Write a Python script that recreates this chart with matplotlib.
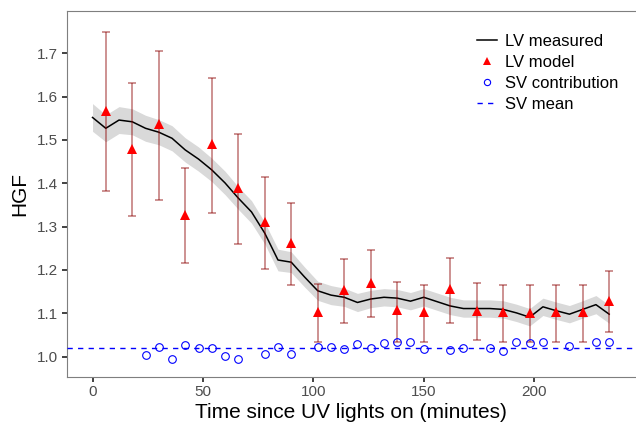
import numpy as np
import matplotlib
matplotlib.use("Agg")
import matplotlib.pyplot as plt
from matplotlib.lines import Line2D

plt.rcParams['font.family'] = ['Liberation Sans', 'DejaVu Sans']

# LV measured (every 6 minutes)
t_meas = list(range(0, 235, 6))
lv_meas = [1.552, 1.527, 1.546, 1.542, 1.527, 1.518, 1.504, 1.477, 1.456, 1.431,
           1.401, 1.366, 1.334, 1.285, 1.223, 1.218, 1.184, 1.152, 1.142, 1.137,
           1.125, 1.133, 1.137, 1.135, 1.128, 1.137, 1.127, 1.117, 1.111, 1.111,
           1.111, 1.109, 1.101, 1.091, 1.115, 1.106, 1.098, 1.109, 1.120, 1.098]
lv_meas_se = [0.032, 0.031, 0.031, 0.030, 0.030, 0.029, 0.029, 0.028, 0.028, 0.027,
              0.027, 0.026, 0.026, 0.025, 0.025, 0.024, 0.023, 0.022, 0.022, 0.021,
              0.021, 0.020, 0.020, 0.020, 0.020, 0.020, 0.020, 0.020, 0.020, 0.020,
              0.020, 0.020, 0.020, 0.020, 0.020, 0.020, 0.020, 0.020, 0.021, 0.021]

# LV model (every 12 minutes)
t_model = list(range(6, 235, 12))
lv_model = [1.567, 1.479, 1.536, 1.327, 1.490, 1.390, 1.310, 1.263, 1.102, 1.154,
            1.171, 1.108, 1.102, 1.156, 1.106, 1.102, 1.101, 1.102, 1.102, 1.129]
lv_model_hi = [1.750, 1.631, 1.705, 1.435, 1.644, 1.513, 1.414, 1.355, 1.167, 1.225,
               1.245, 1.172, 1.165, 1.227, 1.169, 1.165, 1.165, 1.165, 1.165, 1.198]
lv_model_lo = [1.382, 1.325, 1.361, 1.215, 1.332, 1.261, 1.202, 1.165, 1.033, 1.077,
               1.092, 1.033, 1.033, 1.078, 1.038, 1.033, 1.033, 1.033, 1.033, 1.058]

# SV contribution
t_sv = [24, 30, 36, 42, 48, 54, 60, 66, 78, 84, 90, 102, 108, 114, 120, 126, 132,
        138, 144, 150, 162, 168, 180, 186, 192, 198, 204, 216, 228, 234]
sv = [1.004, 1.022, 0.995, 1.027, 1.021, 1.021, 1.002, 0.995, 1.006, 1.023, 1.006,
      1.023, 1.023, 1.017, 1.029, 1.019, 1.031, 1.034, 1.034, 1.018, 1.016, 1.020,
      1.020, 1.013, 1.033, 1.031, 1.034, 1.024, 1.033, 1.033]
sv_mean = 1.0205

x_ticks = [0, 50, 100, 150, 200]
y_ticks = [1.0, 1.1, 1.2, 1.3, 1.4, 1.5, 1.6, 1.7]

fig = plt.figure(figsize=(6.36, 4.24), dpi=100)
ax = fig.add_axes([66.7/636, 1-376.7/424, (635-66.7)/636, (376.7-11)/424])

tm = np.array(t_meas); lm = np.array(lv_meas); se = np.array(lv_meas_se)
ax.fill_between(tm, lm - se, lm + se, color='#D9D9D9', lw=0, zorder=1)
ax.plot(tm, lm, color='black', lw=1.1, zorder=2)

lo = np.array(lv_model) - np.array(lv_model_lo)
hi = np.array(lv_model_hi) - np.array(lv_model)
ax.errorbar(t_model, lv_model, yerr=[lo, hi], fmt='none', ecolor='darkred',
            alpha=0.5, elinewidth=1.2, capsize=2.6, capthick=1.2, zorder=3)
ax.plot(t_model, lv_model, linestyle='none', marker='^', color='red', ms=7.5,
        markeredgewidth=0, zorder=4)

ax.plot(t_sv, sv, linestyle='none', marker='o', mfc='none', mec='blue', ms=5.5,
        mew=0.8, zorder=5)
ax.axhline(sv_mean, color='blue', lw=1.0, dashes=(3.8, 3.8), zorder=4)

ax.set_xlim(-11.7, 245.7)
ax.set_ylim(0.9537, 1.7977)
ax.set_xticks(x_ticks)
ax.set_yticks(y_ticks)
ax.set_yticklabels([f"{v:.1f}" for v in y_ticks])
ax.tick_params(axis='both', labelsize=11, colors='#4D4D4D', length=3.5, width=1.3,
               pad=2.5)
ax.tick_params(axis='both', color='#333333')

for s in ['left', 'bottom', 'top']:
    ax.spines[s].set_color('#7F7F7F')
    ax.spines[s].set_linewidth(0.8)
ax.spines['right'].set_visible(False)

ax.set_ylabel('HGF', fontsize=15, labelpad=6)
ax.set_xlabel('Time since UV lights on (minutes)', fontsize=15, labelpad=3)

handles = [
    Line2D([], [], color='black', lw=1.1),
    Line2D([], [], linestyle='none', marker='^', color='red', ms=6, markeredgewidth=0),
    Line2D([], [], linestyle='none', marker='o', mfc='none', mec='blue', ms=4.5, mew=0.8),
    Line2D([], [], color='blue', lw=1.0, dashes=(3.8, 3.8)),
]
labels = ['LV measured', 'LV model', 'SV contribution', 'SV mean']
ax.legend(handles, labels, loc='upper left', bbox_to_anchor=(477/636, 1-34/424),
          bbox_transform=fig.transFigure, frameon=False, fontsize=12,
          handlelength=1.2, handletextpad=0.5, labelspacing=0.36,
          borderpad=0, borderaxespad=0)

fig.savefig('out.png', dpi=100)
